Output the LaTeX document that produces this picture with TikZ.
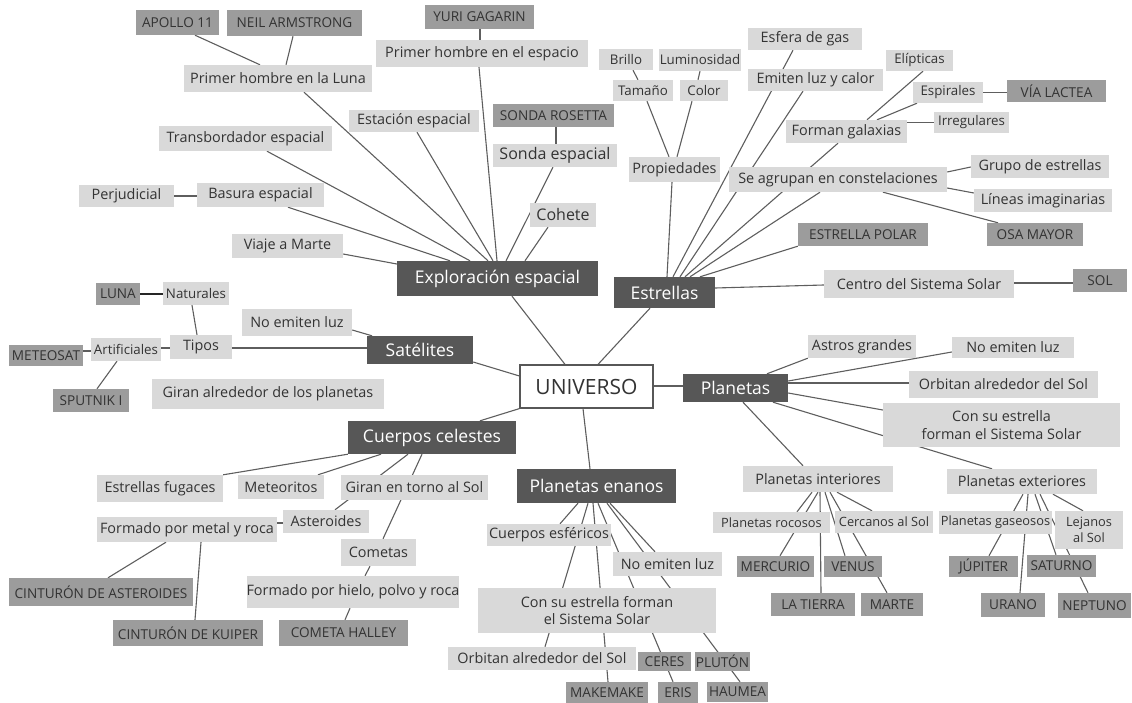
\documentclass[tikz,border=0pt]{standalone}
\usepackage{fontspec}
\setmainfont{Open Sans}
\definecolor{lgray}{HTML}{D9D9D9}
\definecolor{dgray}{HTML}{9C9C9C}
\definecolor{cgray}{HTML}{575757}
\definecolor{txt}{HTML}{333333}
\definecolor{lcol}{HTML}{5E5E5E}
\pgfdeclarelayer{bg}\pgfsetlayers{bg,main}
\newcommand\fsA{\fontsize{14.4}{17.5}\selectfont}
\newcommand\fsS{\fontsize{12.8}{16}\selectfont}
\newcommand\fsT{\fontsize{13.3}{16}\selectfont}
\newcommand\fsL{\fontsize{16}{19}\selectfont}
\newcommand\fsB{\fontsize{13.6}{16}\selectfont}
\newcommand\fsC{\fontsize{17.5}{20}\selectfont}
\newcommand\fsD{\fontsize{21}{24}\selectfont}
\newcommand\mkbox[7]{\node[#1, minimum width={#5-#3}, minimum height={#6-#4}] (#2) at ({(#3+#5)/2},{(#4+#6)/2}) {#7};}
\tikzset{
  base/.style={inner sep=0pt, align=center, text=txt, font=\fsA},
  lb/.style={base, fill=lgray},
  lbs/.style={lb, font=\fsS},
  lbt/.style={lb, font=\fsT},
  db/.style={base, fill=dgray, font=\fsB},
  cat/.style={base, fill=cgray, text=white, font=\fsC},
  root/.style={base, fill=white, draw=cgray, line width=1.2pt, font=\fsD},
  ln/.style={draw=lcol, line width=1.1pt},
  lnk/.style={draw=black!85, line width=1.6pt}
}
\begin{document}
\begin{tikzpicture}[x=1pt,y=-1pt]
\useasboundingbox (0,0) rectangle (1132,703);
% ---------- Exploracion espacial ----------
\mkbox{db}{apollo}{136}{10}{219}{35}{APOLLO 11}
\mkbox{db}{neil}{227}{10}{362}{36}{NEIL ARMSTRONG}
\mkbox{lb}{luna1}{184}{65}{372}{92}{Primer hombre en la Luna}
\mkbox{db}{yuri}{425}{5}{534}{29}{YURI GAGARIN}
\mkbox{lb}{espacio}{376}{40}{588}{67}{Primer hombre en el espacio}
\mkbox{lb}{estacion}{349}{110}{479}{132}{Estación espacial}
\mkbox{lb}{transb}{159}{126}{332}{151}{Transbordador espacial}
\mkbox{db}{rosetta}{493}{104}{614}{127}{SONDA ROSETTA}
\mkbox{lb, font=\fsL}{sonda}{493}{144}{617}{167}{Sonda espacial}
\mkbox{lb, font=\fsL}{cohete}{530}{203}{596}{227}{Cohete}
\mkbox{lb}{perj}{79}{185}{174}{207}{Perjudicial}
\mkbox{lb}{basura}{197}{183}{324}{207}{Basura espacial}
\mkbox{lb}{viaje}{232}{234}{343}{258}{Viaje a Marte}
\mkbox{cat}{expl}{397}{261}{598}{296}{Exploración espacial}
% ---------- Estrellas ----------
\mkbox{lbt}{brillo}{599}{49}{653}{70}{Brillo}
\mkbox{lbt}{lumin}{659}{49}{741}{71}{Luminosidad}
\mkbox{lbt}{tamano}{613}{80}{673}{101}{Tamaño}
\mkbox{lbt}{color}{680}{80}{728}{101}{Color}
\mkbox{lb}{prop}{629}{157}{720}{182}{Propiedades}
\mkbox{lb}{esfera}{748}{28}{862}{50}{Esfera de gas}
\mkbox{lb}{emiten}{748}{69}{883}{91}{Emiten luz y calor}
\mkbox{lbt}{elipt}{886}{50}{953}{71}{Elípticas}
\mkbox{lbt}{espir}{913}{82}{983}{103}{Espirales}
\mkbox{db}{via}{1007}{80}{1106}{102}{VÍA LACTEA}
\mkbox{lbt}{irreg}{934}{112}{1009}{133}{Irregulares}
\mkbox{lb}{galax}{786}{120}{907}{143}{Forman galaxias}
\mkbox{lb}{agrupan}{729}{167}{947}{192}{Se agrupan en constelaciones}
\mkbox{lb}{grupo}{971}{155}{1109}{178}{Grupo de estrellas}
\mkbox{lb}{lineas}{974}{189}{1112}{212}{Líneas imaginarias}
\mkbox{db}{osa}{987}{223}{1083}{246}{OSA MAYOR}
\mkbox{db}{polar}{798}{223}{928}{246}{ESTRELLA POLAR}
\mkbox{lb}{centro}{824}{270}{1014}{298}{Centro del Sistema Solar}
\mkbox{db}{sol}{1073}{269}{1127}{292}{SOL}
\mkbox{cat}{estr}{614}{277}{715}{308}{Estrellas}
% ---------- Satelites ----------
\mkbox{db}{lunab}{96}{283}{140}{305}{LUNA}
\mkbox{lbt}{natur}{163}{282}{229}{305}{Naturales}
\mkbox{lb}{noemit1}{242}{309}{352}{336}{No emiten luz}
\mkbox{lb}{tipos}{170}{335}{232}{359}{Tipos}
\mkbox{lbt}{artif}{91}{338}{161}{361}{Artificiales}
\mkbox{db}{meteo}{9}{345}{83}{366}{METEOSAT}
\mkbox{db}{sputnik}{53}{389}{129}{412}{SPUTNIK I}
\mkbox{lb}{giranpl}{152}{379}{384}{409}{Giran alrededor de los planetas}
\mkbox{cat}{sat}{367}{336}{473}{364}{Satélites}
% ---------- root ----------
\mkbox{root}{uni}{520}{365}{653}{408}{UNIVERSO}
% ---------- Planetas ----------
\mkbox{cat}{plan}{683}{374}{788}{402}{Planetas}
\mkbox{lb}{astros}{808}{335}{916}{358}{Astros grandes}
\mkbox{lb}{noemit2}{952}{337}{1074}{358}{No emiten luz}
\mkbox{lb}{orbit1}{909}{371}{1098}{398}{Orbitan alrededor del Sol}
\mkbox{lb}{consu1}{883}{403}{1120}{447}{Con su estrella\\forman el Sistema Solar}
\mkbox{lb}{interi}{743}{466}{893}{492}{Planetas interiores}
\mkbox{lb}{exteri}{947}{469}{1097}{494}{Planetas exteriores}
\mkbox{lbs}{rocos}{713}{512}{830}{533}{Planetas rocosos}
\mkbox{lbs}{cercan}{835}{511}{933}{533}{Cercanos al Sol}
\mkbox{lbs}{gaseo}{939}{511}{1052}{534}{Planetas gaseosos}
\mkbox{lbs}{lejan}{1055}{511}{1123}{549}{Lejanos\\al Sol}
\mkbox{db}{merc}{737}{556}{814}{577}{MERCURIO}
\mkbox{db}{venus}{824}{556}{882}{577}{VENUS}
\mkbox{db}{tierra}{771}{593}{855}{616}{LA TIERRA}
\mkbox{db}{marte}{861}{593}{923}{616}{MARTE}
\mkbox{db}{jupi}{949}{556}{1018}{577}{JÚPITER}
\mkbox{db}{satur}{1027}{555}{1096}{577}{SATURNO}
\mkbox{db}{urano}{981}{593}{1045}{617}{URANO}
\mkbox{db}{neptu}{1058}{593}{1131}{618}{NEPTUNO}
% ---------- Cuerpos celestes ----------
\mkbox{cat}{cuerpos}{348}{421}{516}{454}{Cuerpos celestes}
\mkbox{lb}{fugaces}{97}{475}{223}{502}{Estrellas fugaces}
\mkbox{lb}{meteor}{238}{475}{324}{499}{Meteoritos}
\mkbox{lb}{girants}{341}{475}{488}{500}{Giran en torno al Sol}
\mkbox{lb}{aster}{283}{510}{369}{533}{Asteroides}
\mkbox{lb}{metal}{97}{517}{277}{542}{Formado por metal y roca}
\mkbox{lb}{comet}{341}{539}{416}{566}{Cometas}
\mkbox{lb}{hielo}{247}{576}{459}{608}{Formado por hielo, polvo y roca}
\mkbox{db}{cinast}{9}{578}{193}{606}{CINTURÓN DE ASTEROIDES}
\mkbox{db}{kuiper}{113}{620}{263}{646}{CINTURÓN DE KUIPER}
\mkbox{db}{halley}{279}{620}{408}{646}{COMETA HALLEY}
% ---------- Planetas enanos ----------
\mkbox{cat}{enanos}{517}{469}{676}{503}{Planetas enanos}
\mkbox{lb}{esfer}{487}{524}{611}{546}{Cuerpos esféricos}
\mkbox{lb}{noemit3}{613}{552}{722}{576}{No emiten luz}
\mkbox{lb}{consu2}{478}{588}{716}{633}{Con su estrella forman\\el Sistema Solar}
\mkbox{lb}{orbit2}{448}{647}{636}{670}{Orbitan alrededor del Sol}
\mkbox{db}{ceres}{638}{652}{691}{671}{CERES}
\mkbox{db}{pluton}{695}{652}{750}{671}{PLUTÓN}
\mkbox{db}{makem}{566}{682}{648}{703}{MAKEMAKE}
\mkbox{db}{eris}{658}{682}{698}{703}{ERIS}
\mkbox{db}{haumea}{707}{682}{768}{702}{HAUMEA}
% ---------- connectors ----------
\begin{pgfonlayer}{bg}
% exploracion
\draw[ln] (apollo.south -| 195,0) -- (luna1.north -| 260,0);
\draw[ln] (neil.south -| 293,0) -- (luna1.north -| 286,0);
\draw[ln] (luna1.south -| 304,0) -- (expl.north -| 488,0);
\draw[ln] (yuri.south -| 480,0) -- (espacio.north -| 480,0);
\draw[ln] (espacio.south -| 479,0) -- (expl.north -| 497,0);
\draw[ln] (estacion.south -| 417,0) -- (expl.north -| 493,0);
\draw[ln] (transb.south -| 267,0) -- (expl.north -| 470,0);
\draw[ln] (rosetta.south -| 556,0) -- (sonda.north -| 556,0);
\draw[ln] (sonda.south -| 553,0) -- (expl.north -| 506,0);
\draw[ln] (cohete.south -| 548,0) -- (expl.north -| 525,0);
\draw[ln] (perj.east) -- (basura.west |- perj.east);
\draw[ln] (basura.south -| 288,0) -- (expl.north -| 450,0);
\draw[ln] (viaje.east |- 0,254) -- (expl.west |- 0,264);
\draw[ln] (expl.south -| 512,0) -- (uni.north -| 565,0);
% estrellas
\draw[ln] (brillo.south -| 633,0) -- (tamano.north -| 638,0);
\draw[ln] (lumin.south -| 700,0) -- (color.north -| 698,0);
\draw[ln] (tamano.south -| 647,0) -- (prop.north -| 669,0);
\draw[ln] (color.south -| 692,0) -- (prop.north -| 677,0);
\draw[ln] (prop.south -| 672,0) -- (estr.north -| 667,0);
\draw[ln] (esfera.south -| 793,0) -- (estr.north -| 673,0);
\draw[ln] (emiten.south -| 803,0) -- (estr.north -| 680,0);
\draw[ln] (elipt.south -| 923,0) -- (galax.north -| 867,0);
\draw[ln] (espir.south -| 917,0) -- (galax.north -| 877,0);
\draw[ln] (espir.east) -- (via.west |- espir.east);
\draw[ln] (irreg.west) -- (galax.east |- irreg.west);
\draw[ln] (galax.south -| 838,0) -- (estr.north -| 685,0);
\draw[ln] (agrupan.south -| 820,0) -- (estr.north -| 690,0);
\draw[ln] (agrupan.east |- 0,172) -- (grupo.west |- 0,167);
\draw[ln] (agrupan.east |- 0,188) -- (lineas.west |- 0,193);
\draw[ln] (agrupan.south -| 883,0) -- (osa.north -| 998,0);
\draw[ln] (polar.south west) -- (estr.north -| 700,0);
\draw[ln] (estr.east |- 0,288) -- (centro.west |- 0,285);
\draw[ln] (centro.east |- 0,283) -- (sol.west |- 0,283);
\draw[ln] (estr.south -| 650,0) -- (uni.north -| 598,0);
% satelites
\draw[lnk] (lunab.east |- 0,294) -- (natur.west |- 0,294);
\draw[ln] (natur.south -| 192,0) -- (tipos.north -| 197,0);
\draw[ln] (artif.east |- 0,348) -- (tipos.west |- 0,348);
\draw[ln] (meteo.east |- 0,351) -- (artif.west |- 0,351);
\draw[ln] (sputnik.north -| 97,0) -- (artif.south -| 117,0);
\draw[ln] (tipos.east |- 0,348) -- (sat.west |- 0,348);
\draw[ln] (noemit1.east |- 0,330) -- (sat.north -| 372,0);
\draw[ln] (sat.east |- 0,362) -- (uni.west |- 0,376);
% planetas
\draw[ln] (uni.east |- 0,386) -- (plan.west |- 0,386);
\draw[ln] (plan.north -| 767,0) -- (astros.south west);
\draw[ln] (plan.east |- 0,381) -- (noemit2.west |- 0,352);
\draw[ln] (plan.east |- 0,383) -- (orbit1.west |- 0,383);
\draw[ln] (plan.east |- 0,393) -- (consu1.west |- 0,410);
\draw[ln] (plan.south -| 773,0) -- (exteri.north -| 992,0);
\draw[ln] (plan.south -| 743,0) -- (interi.north -| 803,0);
\draw[ln] (interi.south -| 812,0) -- (rocos.north -| 797,0);
\draw[ln] (interi.south -| 818,0) -- (merc.north -| 780,0);
\draw[ln] (interi.south -| 820,0) -- (tierra.north -| 821,0);
\draw[ln] (interi.south -| 825,0) -- (venus.north -| 845,0);
\draw[ln] (interi.south -| 830,0) -- (marte.north -| 887,0);
\draw[ln] (interi.south -| 837,0) -- (cercan.north -| 872,0);
\draw[ln] (exteri.south -| 1023,0) -- (jupi.north -| 989,0);
\draw[ln] (exteri.south -| 1028,0) -- (urano.north -| 1020,0);
\draw[ln] (exteri.south -| 1035,0) -- (satur.north -| 1056,0);
\draw[ln] (exteri.south -| 1040,0) -- (neptu.north -| 1088,0);
\draw[ln] (exteri.south -| 1053,0) -- (lejan.north -| 1083,0);
% cuerpos celestes
\draw[ln] (uni.south west) -- (cuerpos.north -| 480,0);
\draw[ln] (cuerpos.south west) -- (fugaces.north east);
\draw[ln] (cuerpos.south -| 381,0) -- (meteor.north -| 318,0);
\draw[ln] (cuerpos.south -| 408,0) -- (aster.north -| 335,0);
\draw[ln] (cuerpos.south -| 422,0) -- (comet.north -| 383,0);
\draw[ln] (aster.west |- 0,523) -- (metal.east |- 0,523);
\draw[ln] (metal.south -| 166,0) -- (cinast.north -| 108,0);
\draw[ln] (metal.south -| 201,0) -- (kuiper.north -| 195,0);
\draw[ln] (comet.south -| 370,0) -- (hielo.north -| 365,0);
\draw[ln] (hielo.south -| 350,0) -- (halley.north -| 345,0);
% planetas enanos
\draw[ln] (uni.south -| 583,0) -- (enanos.north -| 590,0);
\draw[ln] (enanos.south -| 578,0) -- (esfer.north -| 560,0);
\draw[ln] (enanos.south -| 588,0) -- (orbit2.north -| 545,0);
\draw[ln] (enanos.south -| 593,0) -- (makem.north -| 608,0);
\draw[ln] (enanos.south -| 598,0) -- (eris.north -| 673,0);
\draw[ln] (enanos.south -| 607,0) -- (haumea.north -| 740,0);
\draw[ln] (enanos.south -| 610,0) -- (noemit3.north -| 655,0);
\end{pgfonlayer}
\end{tikzpicture}
\end{document}
